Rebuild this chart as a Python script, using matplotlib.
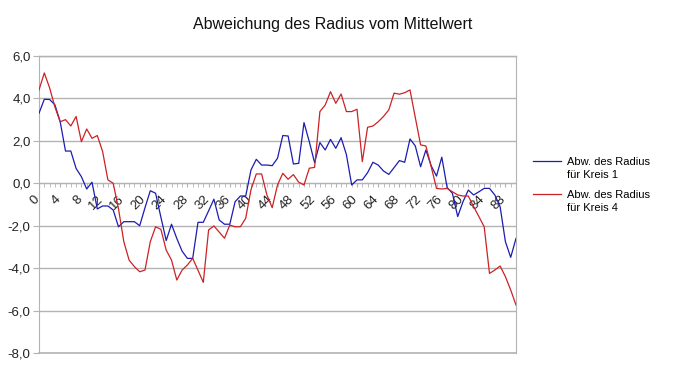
import matplotlib.pyplot as plt
import matplotlib.transforms as mtransforms
import numpy as np

plt.rcParams['font.family'] = ['Liberation Sans', 'DejaVu Sans']

# Abweichung vom Mittelwert, ein Wert pro Messpunkt (0..90)
kreis1 = [3.3, 3.96, 3.95, 3.7, 2.9, 1.52, 1.52, 0.7, 0.31, -0.27,
          0.05, -1.21, -1.07, -1.07, -1.26, -2.05, -1.81, -1.81, -1.81, -2.0,
          -1.15, -0.35, -0.47, -1.6, -2.7, -1.93, -2.6, -3.2, -3.54, -3.54,
          -1.84, -1.84, -1.3, -0.75, -1.73, -1.93, -1.93, -0.87, -0.6, -0.6,
          0.63, 1.13, 0.86, 0.86, 0.83, 1.18, 2.25, 2.23, 0.91, 0.94,
          2.86, 1.96, 0.97, 1.92, 1.57, 2.07, 1.65, 2.15, 1.35, -0.08,
          0.16, 0.16, 0.5, 0.99, 0.86, 0.58, 0.42, 0.74, 1.07, 0.99,
          2.09, 1.76, 0.78, 1.57, 0.82, 0.34, 1.23, -0.2, -0.47, -1.57,
          -0.87, -0.32, -0.55, -0.4, -0.24, -0.24, -0.55, -1.1, -2.75, -3.49,
          -2.6]
kreis4 = [4.4, 5.2, 4.5, 3.6, 2.9, 3.0, 2.7, 3.15, 1.96, 2.56,
          2.12, 2.25, 1.5, 0.16, 0.0, -1.2, -2.75, -3.62, -3.93, -4.17,
          -4.09, -2.75, -2.05, -2.17, -3.15, -3.62, -4.56, -4.09, -3.85, -3.54,
          -4.1, -4.67, -2.2, -2.01, -2.3, -2.59, -1.97, -2.05, -2.05, -1.65,
          -0.3, 0.44, 0.44, -0.55, -1.15, -0.08, 0.47, 0.19, 0.41, 0.05,
          -0.08, 0.71, 0.75, 3.38, 3.69, 4.32, 3.77, 4.21, 3.38, 3.38,
          3.49, 1.02, 2.64, 2.7, 2.9, 3.15, 3.46, 4.25, 4.2, 4.27,
          4.4, 3.1, 1.81, 1.76, 0.78, -0.24, -0.27, -0.24, -0.4, -0.55,
          -0.6, -0.6, -1.1, -1.57, -2.05, -4.25, -4.09, -3.9, -4.4, -5.03,
          -5.74]

legend_top = ['Abw. des Radius', 'Abw. des Radius']
legend_bottom = ['für Kreis 1', 'für Kreis 4']

y_ticks = [-8, -6, -4, -2, 0, 2, 4, 6]
y_labels = ['-8,0', '-6,0', '-4,0', '-2,0', '0,0', '2,0', '4,0', '6,0']
x_major = list(range(0, 89, 4))

gray = '#b3b3b3'
x = np.arange(len(kreis1))

fig = plt.figure(figsize=(6.73, 3.68), dpi=100)
ax = fig.add_axes([39 / 673, 1 - 353 / 368, 477 / 673, 297 / 368])

ax.plot(x, kreis1, color='#1c1cb0', lw=0.9, zorder=3, label=legend_top[0])
ax.plot(x, kreis4, color='#cc2226', lw=0.9, zorder=3, label=legend_top[1])

ax.set_xlim(0, len(kreis1) - 1)
ax.set_ylim(-8, 6)

ax.set_yticks(y_ticks)
ax.set_yticklabels(y_labels, fontsize=9.5, color='#222222')
ax.yaxis.grid(True, color=gray, lw=1)
ax.set_axisbelow(True)
ax.tick_params(axis='y', length=4, color=gray, pad=2)

# x-Achse liegt auf der Nulllinie
ax.spines['bottom'].set_position(('data', 0))
for s in ax.spines.values():
    s.set_color(gray)
ax.axhline(-8, color=gray, lw=1.2, clip_on=False, zorder=1)
ax.axhline(6, color=gray, lw=1, clip_on=False, zorder=1)

ax.set_xticks(x_major)
ax.set_xticks(x, minor=True)
ax.set_xticklabels([str(v) for v in x_major], rotation=45, ha='right',
                   fontsize=9.5, color='#222222')
ax.tick_params(axis='x', which='both', length=3, color=gray, pad=4)
shift = mtransforms.ScaledTranslation(3 / 100, 0, fig.dpi_scale_trans)
for lab in ax.get_xticklabels():
    lab.set_transform(lab.get_transform() + shift)

fig.text(333 / 673, 1 - 24 / 368, 'Abweichung des Radius vom Mittelwert',
         ha='center', va='center', fontsize=11.5, color='#111111')

leg = fig.legend(loc='upper left', bbox_to_anchor=(527 / 673, 1 - 151 / 368),
                 frameon=False, fontsize=8, handlelength=2.6, handletextpad=0.5,
                 labelspacing=2.1, borderpad=0)

# zweite Zeile jedes Legendeneintrags unter die erste setzen
fig.canvas.draw()
renderer = fig.canvas.get_renderer()
inv = fig.transFigure.inverted()
for t, txt in zip(leg.get_texts(), legend_bottom):
    bb = t.get_window_extent(renderer)
    x0, y0 = inv.transform((bb.x0, bb.y0))
    fig.text(x0, y0 - 3 / 368, txt, ha='left', va='top', fontsize=8)

fig.savefig('out.png', dpi=100)
